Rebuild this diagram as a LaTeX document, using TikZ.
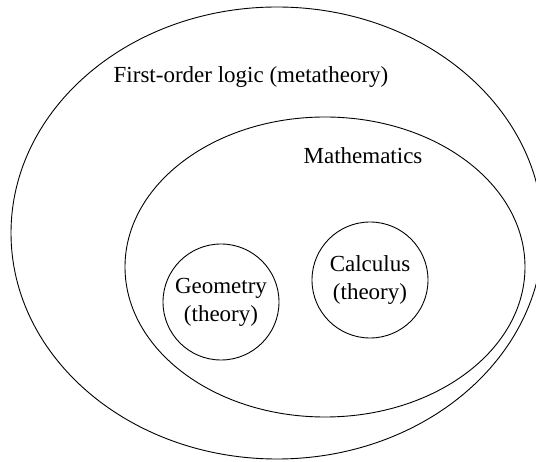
\documentclass[tikz,border=0pt]{standalone}
\usepackage{fontspec}
\setmainfont{Liberation Serif}
\usepackage{tikz}
\usetikzlibrary{shapes.geometric,positioning}

\begin{document}
\begin{tikzpicture}[x=1pt,y=1pt,
set/.style={draw,ellipse,line width=0.9pt,inner sep=0pt},
theory/.style={draw,circle,line width=0.9pt,minimum size=116pt,inner sep=0pt},
lbl/.style={align=center,font=\fontsize{23}{28}\selectfont}
]
\useasboundingbox (0,0) rectangle (536,461);
\node[set,minimum width=532pt,minimum height=452pt] (fol) at (277,228) {};
\node[set,minimum width=400pt,minimum height=300pt] (math) at (325,194) {};
\node[theory] (geo) at (221,159) {};
\node[theory] (calc) at (370,181) {};

\node[lbl] (foltext) at (251,384) {First-order logic (metatheory)};
\node[lbl] (mathtext) at (363,305) {Mathematics};
\node[lbl] at (geo) {Geometry\\(theory)};
\node[lbl] at (calc) {Calculus\\(theory)};
\end{tikzpicture}
\end{document}
